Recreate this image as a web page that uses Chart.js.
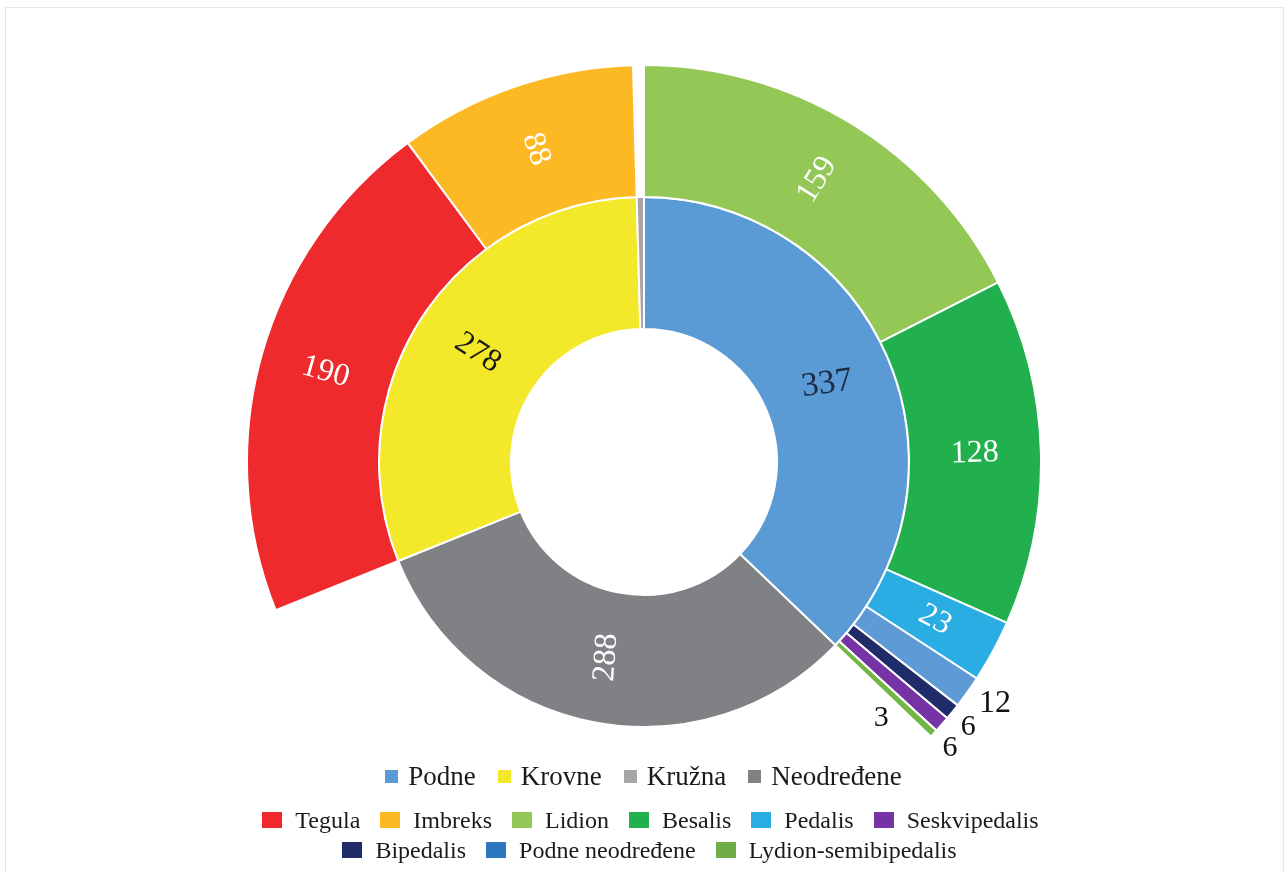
<!DOCTYPE html>
<html>
<head>
<meta charset="utf-8">
<script src="https://cdn.jsdelivr.net/npm/chart.js@4.4.1/dist/chart.umd.min.js"></script>
<style>
  html, body { margin: 0; padding: 0; background: #fff; }
  body {
    width: 1287px; height: 872px; position: relative; overflow: hidden;
    font-family: 'Liberation Serif', 'Times New Roman', serif; color: #1a1a1a;
  }
  #frame { position: absolute; left: 5px; top: 7px; width: 1277px; height: 900px; border: 1px solid #e6e6e6; }
  #chart-box { position: absolute; left: 246px; top: 64px; width: 796px; height: 796px; }
  .legend-row {
    position: absolute; left: 0; width: 1287px; height: 30px; line-height: 30px;
    display: flex; justify-content: center; align-items: center; z-index: 2;
  }
  .legend-item { display: flex; align-items: center; white-space: nowrap; }
  .legend-item i { display: inline-block; }
  #row-0 { top: 761px; font-size: 27px; }
  #row-1 { top: 805px; font-size: 24px; padding-left: 7px; }
  #row-2 { top: 835px; font-size: 24px; padding-left: 6px; }
</style>
</head>
<body>
<div id="frame"></div>
<div id="chart-box"><canvas id="sunburst" width="796" height="796"></canvas></div>
<div class="legend-row" id="row-0"></div>
<div class="legend-row" id="row-1"></div>
<div class="legend-row" id="row-2"></div>

<script>
// inner ring: main groups, clockwise from 12 o'clock
const groups = ['Podne', 'Neodređene', 'Krovne', 'Kružna'];
const groupValues = [337, 288, 278, 4];

// outer ring: subtypes of Podne, then subtypes of Krovne
const podneTypes = ['Lidion', 'Besalis', 'Pedalis', 'Podne neodređene', 'Bipedalis', 'Seskvipedalis', 'Lydion-semibipedalis'];
const podneValues = [159, 128, 23, 12, 6, 6, 3];
const krovneTypes = ['Tegula', 'Imbreks'];
const krovneValues = [190, 88];

const legendRows = [
  ['Podne', 'Krovne', 'Kružna', 'Neodređene'],
  ['Tegula', 'Imbreks', 'Lidion', 'Besalis', 'Pedalis', 'Seskvipedalis'],
  ['Bipedalis', 'Podne neodređene', 'Lydion-semibipedalis']
];

const colors = {
  'Podne': '#5B9BD5',
  'Krovne': '#F4E82A',
  'Kružna': '#A6A6A6',
  'Neodređene': '#808184',
  'Tegula': '#EE2A2D',
  'Imbreks': '#FDB924',
  'Lidion': '#93C856',
  'Besalis': '#22B04F',
  'Pedalis': '#2AADE3',
  'Seskvipedalis': '#7533A5',
  'Bipedalis': '#1F2C69',
  'Podne neodređene': '#5E9BD6',
  'Lydion-semibipedalis': '#72B646'
};
// legend swatch differs from the slice for these
const swatchColors = { 'Podne neodređene': '#2E75C0', 'Lydion-semibipedalis': '#70AD47' };

// label look per slice (rot = fixed angle in degrees instead of radial)
const labelStyle = {
  'Podne': { color: '#1E2B45', size: 34, rot: -8 },
  'Krovne': { color: '#1a1a1a', size: 32 },
  'Neodređene': { color: '#fff', size: 32, rot: -86 },
  'Kružna': { hidden: true },
  'Tegula': { color: '#fff', size: 32 },
  'Imbreks': { color: '#fff', size: 32 },
  'Lidion': { color: '#fff', size: 32 },
  'Besalis': { color: '#fff', size: 32 },
  'Pedalis': { color: '#fff', size: 32 },
  'Podne neodređene': { color: '#111', size: 32, outside: true, dr: 29, da: -0.9 },
  'Bipedalis': { color: '#111', size: 30, outside: true, dr: 22, da: 0.3 },
  'Seskvipedalis': { color: '#111', size: 30, outside: true, dr: 22, da: 1.7 },
  'Lydion-semibipedalis': { color: '#111', size: 30, outside: true, dr: -48, da: 4 }
};

// outer ring: empty gaps where a group has no subtypes
const outerNames = [...podneTypes, null, ...krovneTypes, null];
const outerValues = [...podneValues, groupValues[1], ...krovneValues, groupValues[3]];

const sliceLabels = {
  id: 'sliceLabels',
  afterDatasetsDraw(chart) {
    const ctx = chart.ctx;
    chart.data.datasets.forEach((ds, di) => {
      const meta = chart.getDatasetMeta(di);
      meta.data.forEach((arc, i) => {
        const name = ds.names[i];
        if (!name) return;
        const st = labelStyle[name] || {};
        if (st.hidden) return;
        const p = arc.getProps(['x', 'y', 'startAngle', 'endAngle', 'innerRadius', 'outerRadius']);
        let mid = (p.startAngle + p.endAngle) / 2;
        let r, rot;
        if (st.outside) {
          mid += st.da * Math.PI / 180;
          r = p.outerRadius + st.dr;
          rot = 0;
        } else {
          r = (p.innerRadius + p.outerRadius) / 2;
          rot = Math.cos(mid) >= 0 ? mid : mid + Math.PI;
        }
        if (st.rot !== undefined) rot = st.rot * Math.PI / 180;
        ctx.save();
        ctx.translate(p.x + r * Math.cos(mid), p.y + r * Math.sin(mid));
        ctx.rotate(rot);
        ctx.font = st.size + "px 'Liberation Serif', 'Times New Roman', serif";
        ctx.fillStyle = st.color;
        ctx.textAlign = 'center';
        ctx.textBaseline = 'middle';
        ctx.fillText(String(ds.data[i]), 0, 0);
        ctx.restore();
      });
    });
  }
};

new Chart(document.getElementById('sunburst'), {
  type: 'doughnut',
  data: {
    labels: outerNames.map(n => n || ''),
    datasets: [
      {
        names: outerNames,
        data: outerValues,
        backgroundColor: outerNames.map(n => n ? colors[n] : 'rgba(0,0,0,0)'),
        borderColor: '#fff',
        borderWidth: outerNames.map(n => n ? 2 : 0)
      },
      {
        names: groups,
        data: groupValues,
        backgroundColor: groups.map(n => colors[n]),
        borderColor: '#fff',
        borderWidth: 2
      }
    ]
  },
  options: {
    responsive: false,
    animation: false,
    cutout: '33.5%',
    layout: { padding: 0 },
    plugins: { legend: { display: false }, tooltip: { enabled: false } }
  },
  plugins: [sliceLabels]
});

// legend rows
legendRows.forEach((row, ri) => {
  const el = document.getElementById('row-' + ri);
  const big = ri > 0;
  row.forEach((name, k) => {
    const item = document.createElement('span');
    item.className = 'legend-item';
    item.style.marginLeft = k === 0 ? '0' : (big ? '20px' : '22px');
    const sw = document.createElement('i');
    sw.style.width = big ? '20px' : '13px';
    sw.style.height = big ? '16px' : '13px';
    sw.style.marginRight = big ? '13px' : '10px';
    sw.style.background = swatchColors[name] || colors[name];
    item.appendChild(sw);
    item.appendChild(document.createTextNode(name));
    el.appendChild(item);
  });
});
</script>
</body>
</html>
